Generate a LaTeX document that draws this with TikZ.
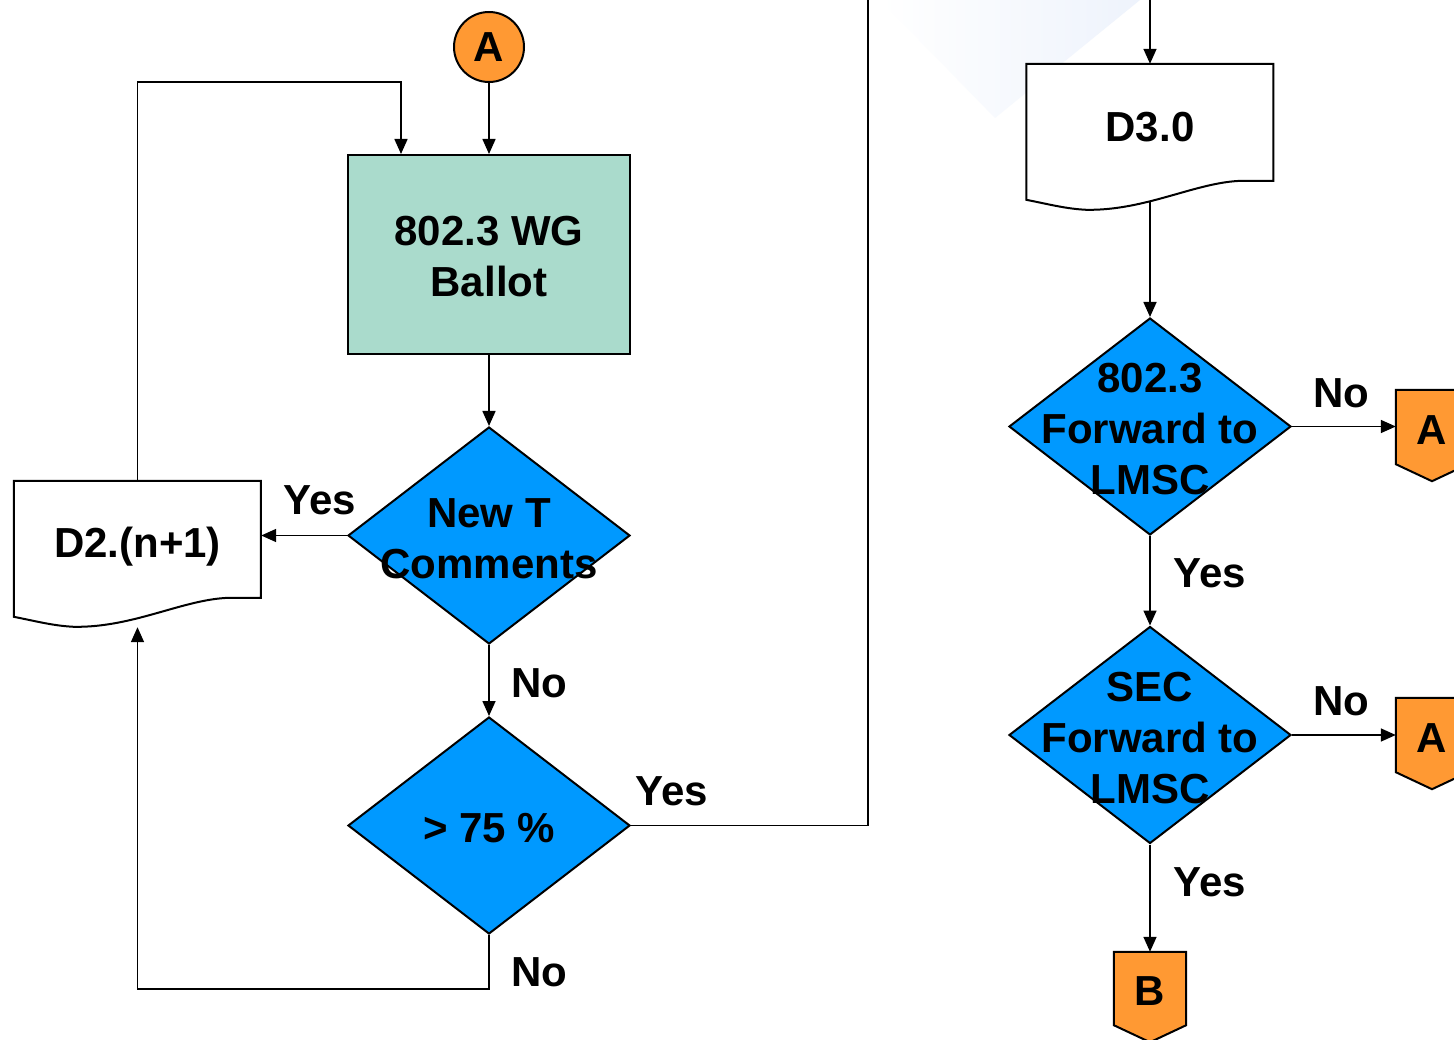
\documentclass[tikz,border=0pt]{standalone}
\usepackage{fontspec}
\setmainfont{Liberation Sans}
\usetikzlibrary{shapes.geometric,arrows.meta,calc,backgrounds}
\definecolor{orangeA}{RGB}{255,153,51}
\definecolor{blueD}{RGB}{0,153,255}
\definecolor{greenB}{RGB}{170,219,204}
\definecolor{haze}{RGB}{238,243,252}
\newcommand\bigtxt{\fontsize{42}{51}\selectfont\bfseries}
\newcommand\docpath[1]{%
  \begin{scope}[shift={(#1.north west)}]
    \draw[shapeline, fill=white] (0,0) -- (0,136)
      .. controls (25,141) and (40,145) .. (60,146)
      .. controls (120,147) and (170,118) .. (216,117)
      -- (247,117) -- (247,0) -- cycle;
  \end{scope}}
\newcommand\offpath[1]{%
  \draw[shapeline, fill=orangeA] (#1.north west) -- (#1.north east) -- (#1.south east)
    -- ($(#1.south)+(0,17)$) -- (#1.south west) -- cycle;}
\begin{document}
\begin{tikzpicture}[x=1pt,y=-1pt,
  every node/.append style={font=\bigtxt},
  shapeline/.style={draw=black, line width=2pt},
  conn/.style={line width=1.6pt},
  arr/.style={conn, -{Triangle[length=15pt,width=13pt]}},
  decision/.style={diamond, draw=black, line width=2pt, fill=blueD,
    minimum width=282pt, minimum height=217pt, inner sep=0pt},
  dtext/.style={align=center, yshift=-3pt},
  docbox/.style={rectangle, minimum width=247pt, inner sep=0pt},
  offpage/.style={rectangle, minimum width=72pt, minimum height=74pt, inner sep=0pt},
  lbl/.style={inner sep=0pt}]
\useasboundingbox (0,0) rectangle (1454,1040);

% nodes
\node[circle, draw=black, line width=2pt, fill=orangeA, minimum size=70pt, inner sep=2pt] (cA) at (489,47) {A};
\node[rectangle, draw=black, line width=2pt, fill=greenB, minimum width=282pt, minimum height=199pt,
  label={[align=center, yshift=-2pt]center:{802.3 WG\\Ballot}}] (ballot) at (489,254.5) {};
\node[decision, label={[dtext]center:{New T\\Comments}}] (q1) at (489,535.5) {};
\node[decision, label={[dtext]center:{> 75 \%}}] (q2) at (489,825.5) {};
\node[docbox, minimum height=146pt, label={[yshift=7pt]center:{D2.(n+1)}}] (d2) at (137.5,554) {};
\node[docbox, minimum height=138pt, label={[yshift=6pt]center:{D3.0}}] (d3) at (1150,133) {};
\node[decision, label={[dtext]center:{802.3\\Forward to\\LMSC}}] (q3) at (1150,426.5) {};
\node[decision, label={[dtext]center:{SEC\\Forward to\\LMSC}}] (q4) at (1150,735) {};
\node[offpage, label={[yshift=-3pt]center:A}] (oA1) at (1432,427) {};
\node[offpage, label={[yshift=-3pt]center:A}] (oA2) at (1432,735) {};
\node[offpage, minimum height=73pt, label={[yshift=-3pt]center:B}] (oB) at (1150,988.5) {};

\begin{scope}[on background layer]
  \fill[white] (0,0) rectangle (1454,1040);
  \shade[left color=white, right color=haze] (880,0) -- (1140,0) -- (995,118) -- cycle;
  \docpath{d2}
  \docpath{d3}
  \offpath{oA1}
  \offpath{oA2}
  \offpath{oB}
\end{scope}

% coordinates
\coordinate (loopc) at (401,82);
\coordinate (botc) at (489,989);
\coordinate (topL) at (868,0);
\coordinate (topR) at (1150,0);

% connectors
\draw[arr] (cA) -- (ballot);
\draw[arr] (d2.north) |- (loopc) -- (loopc |- ballot.north);
\draw[arr] (ballot) -- (q1);
\draw[arr] (q1.west) -- (q1.west -| d2.east);
\draw[arr] (q1.south) -- (q2.north);
\draw[arr] (q2.south) -- (botc) -| (d2.south);
\draw[conn] (q2.east) -| (topL);
\draw[arr] (topR) -- (d3.north);
\draw[arr] (d3.south) -- (q3.north);
\draw[arr] (q3.east) -- (q3.east -| oA1.west);
\draw[arr] (q3.south) -- (q4.north);
\draw[arr] (q4.east) -- (q4.east -| oA2.west);
\draw[arr] (q4.south) -- (oB.north);

% connector labels
\node[lbl] (lyes1) at (320,500) {Yes};
\node[lbl] (lno1) at (539,683) {No};
\node[lbl] (lno2) at (539,972) {No};
\node[lbl] (lyes2) at (672,791) {Yes};
\node[lbl] (lno3) at (1341,393) {No};
\node[lbl] (lyes3) at (1210,573) {Yes};
\node[lbl] (lno4) at (1341,701) {No};
\node[lbl] (lyes4) at (1210,882) {Yes};
\end{tikzpicture}
\end{document}
